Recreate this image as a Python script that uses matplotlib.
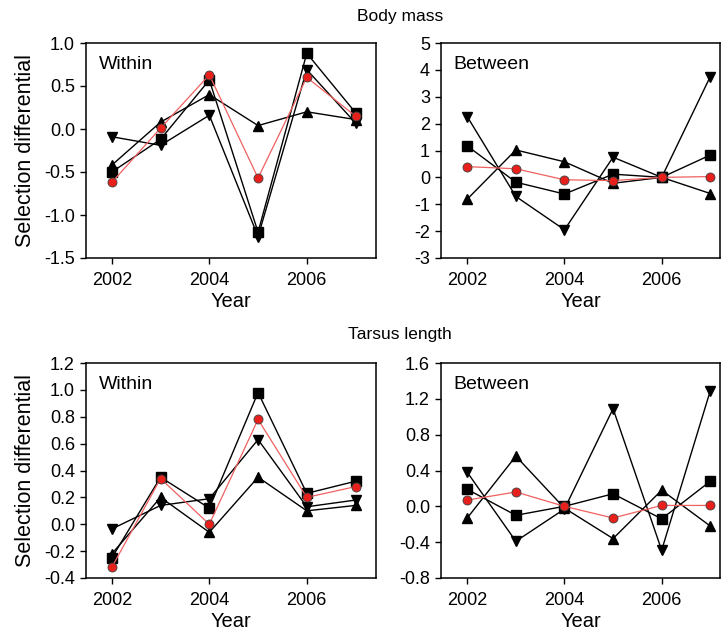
import matplotlib
matplotlib.use("Agg")
import matplotlib.pyplot as plt

plt.rcParams["font.family"] = ["Liberation Sans", "DejaVu Sans"]

years = [2002, 2003, 2004, 2005, 2006, 2007]

# Body mass, within
bm_within_circle = [-0.62, 0.01, 0.63, -0.57, 0.60, 0.15]
bm_within_square = [-0.50, -0.12, 0.57, -1.20, 0.88, 0.19]
bm_within_up = [-0.42, 0.08, 0.40, 0.04, 0.20, 0.11]
bm_within_down = [-0.09, -0.19, 0.16, -1.25, 0.69, 0.07]

# Body mass, between
bm_between_circle = [0.40, 0.32, -0.09, -0.12, 0.00, 0.03]
bm_between_square = [1.17, -0.18, -0.62, 0.12, 0.00, 0.83]
bm_between_up = [-0.81, 1.02, 0.58, -0.22, 0.00, -0.60]
bm_between_down = [2.26, -0.71, -1.95, 0.75, 0.00, 3.75]

# Tarsus length, within
tl_within_circle = [-0.32, 0.34, 0.00, 0.78, 0.20, 0.28]
tl_within_square = [-0.25, 0.35, 0.12, 0.98, 0.23, 0.32]
tl_within_up = [-0.22, 0.20, -0.06, 0.35, 0.10, 0.14]
tl_within_down = [-0.035, 0.14, 0.19, 0.63, 0.13, 0.18]

# Tarsus length, between
tl_between_circle = [0.07, 0.16, 0.00, -0.13, 0.01, 0.01]
tl_between_square = [0.19, -0.10, 0.00, 0.14, -0.14, 0.28]
tl_between_up = [-0.13, 0.56, -0.02, -0.36, 0.18, -0.22]
tl_between_down = [0.38, -0.39, -0.03, 1.09, -0.49, 1.29]

W, H = 721, 634
fig = plt.figure(figsize=(W / 100, H / 100), dpi=100)


def make_ax(x0, x1, y0, y1):
    return fig.add_axes([x0 / W, 1 - y1 / H, (x1 - x0) / W, (y1 - y0) / H])


def draw_panel(ax, circle, square, up, down, label, ylim, yticks, yfmt, xlim):
    for vals, m in ((down, "v"), (up, "^"), (square, "s")):
        ax.plot(years, vals, color="black", lw=1.0, marker=m, ms=6.5,
                mfc="black", mec="black", zorder=3)
    ax.plot(years, circle, color="#f06060", lw=0.9, marker="o", ms=6.5,
            mfc="#e8201c", mec="#404040", mew=0.6, zorder=4)
    ax.set_xlim(*xlim)
    ax.set_ylim(*ylim)
    ax.set_xticks([2002, 2004, 2006])
    ax.set_yticks(yticks)
    ax.set_yticklabels([yfmt.format(v) for v in yticks])
    ax.tick_params(direction="out", length=4, width=1, labelsize=13,
                   top=False, right=False)
    ax.tick_params(axis="x", pad=6)
    ax.tick_params(axis="y", pad=4)
    for s in ax.spines.values():
        s.set_linewidth(1.1)
    ax.text(0.045, 0.94, label, transform=ax.transAxes, ha="left", va="top",
            fontsize=14)
    ax.set_xlabel("Year", fontsize=14.5, labelpad=2)


ax1 = make_ax(86, 376, 43, 258)
draw_panel(ax1, bm_within_circle, bm_within_square, bm_within_up, bm_within_down,
           "Within", (-1.5, 1.0), [-1.5, -1.0, -0.5, 0.0, 0.5, 1.0], "{:.1f}",
           (2001.47, 2007.42))
ax1.set_ylabel("Selection differential", fontsize=15.5, labelpad=6)

ax2 = make_ax(441, 720, 43, 258)
draw_panel(ax2, bm_between_circle, bm_between_square, bm_between_up, bm_between_down,
           "Between", (-3, 5), list(range(-3, 6)), "{:d}", (2001.46, 2007.2))

ax3 = make_ax(86, 376, 363, 578)
draw_panel(ax3, tl_within_circle, tl_within_square, tl_within_up, tl_within_down,
           "Within", (-0.4, 1.2), [-0.4, -0.2, 0.0, 0.2, 0.4, 0.6, 0.8, 1.0, 1.2],
           "{:.1f}", (2001.47, 2007.42))
ax3.set_ylabel("Selection differential", fontsize=15.5, labelpad=6)

ax4 = make_ax(441, 720, 363, 578)
draw_panel(ax4, tl_between_circle, tl_between_square, tl_between_up, tl_between_down,
           "Between", (-0.8, 1.6), [-0.8, -0.4, 0.0, 0.4, 0.8, 1.2, 1.6], "{:.1f}",
           (2001.46, 2007.2))

fig.text(400 / W, 1 - 17 / H, "Body mass", ha="center", va="center", fontsize=12.5)
fig.text(400 / W, 1 - 334 / H, "Tarsus length", ha="center", va="center", fontsize=12.5)

fig.savefig("out.png", dpi=100)
